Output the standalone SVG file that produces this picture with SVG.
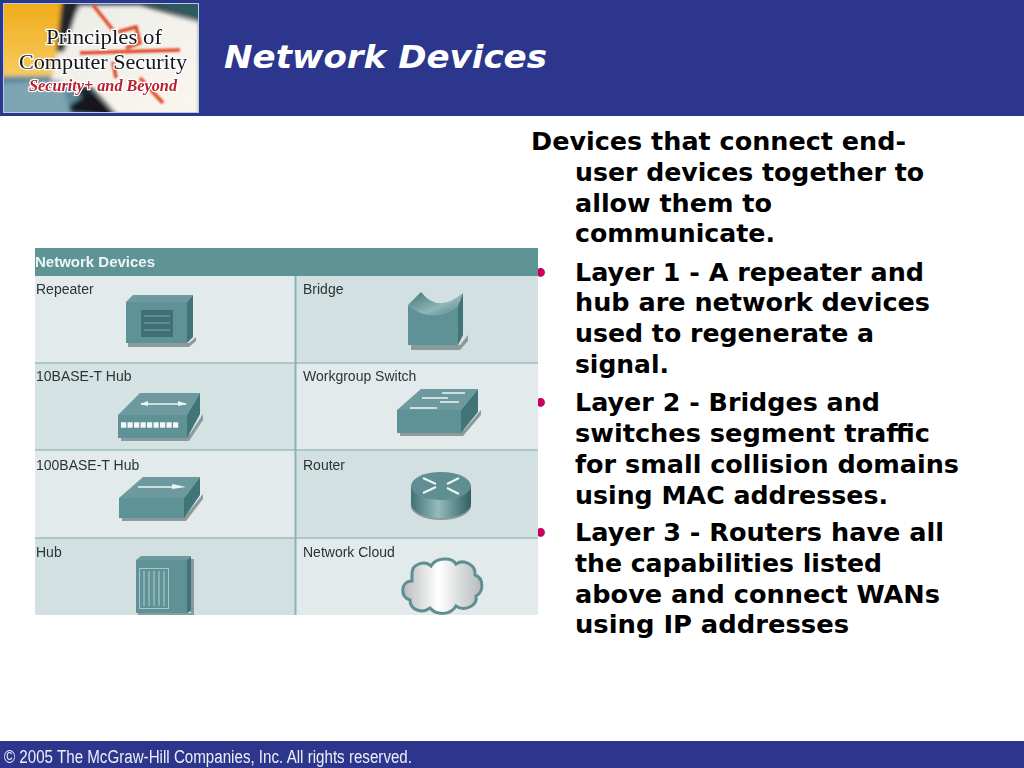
<svg xmlns="http://www.w3.org/2000/svg" width="1024" height="768" viewBox="0 0 1024 768">
<style>
.b{font-family:"DejaVu Sans",Verdana,sans-serif;font-weight:700;font-size:24px;fill:#000}
.bu{font-family:"DejaVu Sans",sans-serif;font-weight:700;font-size:24px;fill:#c8005a}
.l{font-family:"Liberation Sans",Arial,sans-serif;font-size:14px;fill:#2c3434}
.front{fill:#5f9296}.top{fill:#6c9a9e}.side{fill:#3f7478}.sh{fill:#8b9a9b}
.w{stroke:#eef5f5;stroke-width:2;fill:none}
.ser{font-family:"Liberation Serif",serif;fill:#12161e;stroke:#12161e;stroke-width:.3;paint-order:stroke}
</style>
<defs>
<linearGradient id="rt" x1="0" x2="1" y1="0" y2="0"><stop offset="0" stop-color="#3f7074"/><stop offset=".45" stop-color="#94bcbc"/><stop offset="1" stop-color="#2f6064"/></linearGradient>
<linearGradient id="cl" x1="0" x2="1" y1="0" y2="0"><stop offset="0" stop-color="#b8bcbc"/><stop offset=".45" stop-color="#fff"/><stop offset="1" stop-color="#b4baba"/></linearGradient>
<linearGradient id="br" x1="0" x2="1" y1="0" y2="1"><stop offset="0" stop-color="#3f7478"/><stop offset=".6" stop-color="#8fb6b8"/><stop offset="1" stop-color="#4f8286"/></linearGradient>
<linearGradient id="lk" x1="0" x2="1" y1="0" y2="1"><stop offset="0" stop-color="#ecece6"/><stop offset="1" stop-color="#fbf7f0"/></linearGradient>
<linearGradient id="ye" x1="0" x2="0" y1="0" y2="1"><stop offset="0" stop-color="#f0aa18"/><stop offset="1" stop-color="#f7cd62"/></linearGradient>
<filter id="s" x="-5%" y="-5%" width="110%" height="110%"><feGaussianBlur stdDeviation="0.45"/></filter>
<filter id="s2" x="-5%" y="-5%" width="110%" height="110%"><feGaussianBlur stdDeviation="2"/></filter>
<filter id="s3" x="-5%" y="-5%" width="110%" height="110%"><feGaussianBlur stdDeviation="0.8"/></filter>
<clipPath id="lc"><rect x="4" y="4" width="194" height="108"/></clipPath>
<clipPath id="tc"><rect x="35" y="248" width="503" height="367"/></clipPath>
</defs>
<rect width="1024" height="768" fill="#fff"/>
<rect id="header-bar" width="1024" height="116" fill="#2b368c"/>
<rect id="footer-bar" y="741" width="1024" height="27" fill="#2b368c"/>
<text id="title" x="224" y="68" textLength="323" lengthAdjust="spacingAndGlyphs" style="font-family:'DejaVu Sans',Verdana,sans-serif;font-weight:700;font-style:italic;font-size:32px;fill:#fff">Network Devices</text>
<text id="footer" x="4" y="763" filter="url(#s)" style="font-family:'Liberation Sans',Arial,sans-serif;font-size:18px;fill:#eeeef6" textLength="408" lengthAdjust="spacingAndGlyphs">© 2005 The McGraw-Hill Companies, Inc. All rights reserved.</text>
<g id="logo">
<rect x="3.500" y="3.500" width="195" height="109" fill="none" stroke="#b5cde0"/>
<g clip-path="url(#lc)">
<rect x="4" y="4" width="194" height="108" fill="#1d2a30"/>
<g filter="url(#s2)">
<path d="M0 0H64L56 80H0Z" fill="url(#ye)"/>
<path d="M0 76H62L100 116H0Z" fill="#5d8a9e"/>
<path d="M80 5H140L200 22V116H118L90 86H50L58 50Z" fill="url(#lk)"/>
<path d="M62 0H80L64 52H56Z" fill="#23282c"/>
<path d="M140 0H202V22Z" fill="#2e5a60"/>
<path d="M60 112L90 92L118 116Z" fill="#12181c"/>
<path d="M0 84L60 80L72 116H0Z" fill="#7fa4b4"/>
</g>
<g stroke="#e0492a" fill="none" stroke-width="3.500" filter="url(#s3)">
<path d="M93 5L113 30"/><path d="M80 53L180 50"/><path d="M118 32L136 27L140 43L126 48"/><path d="M113 62L116 78M140 78L163 103"/>
</g>
</g>
<text class="ser" x="104" y="44" text-anchor="middle" font-size="21" textLength="116" lengthAdjust="spacingAndGlyphs" filter="url(#s)" style="stroke:#fff;stroke-width:2.500;paint-order:stroke">Principles of</text>
<text class="ser" x="103" y="69" text-anchor="middle" font-size="21" textLength="168" lengthAdjust="spacingAndGlyphs" filter="url(#s)" style="stroke:#fff;stroke-width:2.500;paint-order:stroke">Computer Security</text>
<text x="103" y="91" text-anchor="middle" textLength="148" lengthAdjust="spacingAndGlyphs" filter="url(#s)" style="font-family:'Liberation Serif',serif;font-style:italic;font-weight:700;font-size:16px;fill:#b5202e;stroke:#fff;stroke-width:2.500;paint-order:stroke">Security+ and Beyond</text>
</g>
<g id="body-text">
<text class="b" x="531" y="150" textLength="375" lengthAdjust="spacingAndGlyphs">Devices that connect end-</text>
<text class="b" x="575" y="181" textLength="349" lengthAdjust="spacingAndGlyphs">user devices together to</text>
<text class="b" x="575" y="212" textLength="197" lengthAdjust="spacingAndGlyphs">allow them to</text>
<text class="b" x="575" y="242" textLength="200" lengthAdjust="spacingAndGlyphs">communicate.</text>
<text class="bu" x="533" y="282">•</text>
<text class="b" x="575" y="281" textLength="349" lengthAdjust="spacingAndGlyphs">Layer 1 - A repeater and</text>
<text class="b" x="575" y="311" textLength="355" lengthAdjust="spacingAndGlyphs">hub are network devices</text>
<text class="b" x="575" y="342" textLength="299" lengthAdjust="spacingAndGlyphs">used to regenerate a</text>
<text class="b" x="575" y="373" textLength="94" lengthAdjust="spacingAndGlyphs">signal.</text>
<text class="bu" x="533" y="412">•</text>
<text class="b" x="575" y="411" textLength="305" lengthAdjust="spacingAndGlyphs">Layer 2 - Bridges and</text>
<text class="b" x="575" y="442" textLength="355" lengthAdjust="spacingAndGlyphs">switches segment traffic</text>
<text class="b" x="575" y="473" textLength="384" lengthAdjust="spacingAndGlyphs">for small collision domains</text>
<text class="b" x="575" y="504" textLength="313" lengthAdjust="spacingAndGlyphs">using MAC addresses.</text>
<text class="bu" x="533" y="542">•</text>
<text class="b" x="575" y="541" textLength="369" lengthAdjust="spacingAndGlyphs">Layer 3 - Routers have all</text>
<text class="b" x="575" y="572" textLength="307" lengthAdjust="spacingAndGlyphs">the capabilities listed</text>
<text class="b" x="575" y="603" textLength="365" lengthAdjust="spacingAndGlyphs">above and connect WANs</text>
<text class="b" x="575" y="633" textLength="274" lengthAdjust="spacingAndGlyphs">using IP addresses</text>
</g>
<g id="device-table" clip-path="url(#tc)">
<g filter="url(#s)">
<rect x="35" y="248" width="503" height="367" fill="#d2e0e2"/>
<rect x="35" y="248" width="503" height="28" fill="#5f9497"/>
<rect x="35" y="276" width="260" height="87" fill="#e2eaeb"/>
<rect x="295" y="276" width="243" height="87" fill="#d2e0e2"/>
<rect x="35" y="363" width="260" height="87" fill="#d5e2e4"/>
<rect x="295" y="363" width="243" height="87" fill="#e2eaeb"/>
<rect x="35" y="450" width="260" height="88" fill="#e2eaeb"/>
<rect x="295" y="450" width="243" height="88" fill="#d2e0e2"/>
<rect x="35" y="538" width="260" height="77" fill="#d2e0e2"/>
<rect x="295" y="538" width="243" height="77" fill="#e2eaeb"/>
<path d="M35 363H538M35 450H538M35 538H538" stroke="#7fa8aa" stroke-width="1.200"/>
<path d="M295.500 276V615" stroke="#8db2b4" stroke-width="2"/>
</g>
<text x="35" y="267" filter="url(#s)" style="font-family:'Liberation Sans',Arial,sans-serif;font-weight:700;font-size:15px;fill:#eef5f5">Network Devices</text>
<g id="repeater" filter="url(#s)">
<text class="l" x="36" y="294">Repeater</text>
<path class="sh" d="M128 343H189L196 337V341L189 347H128Z"/>
<path class="top" d="M126 302L133 295H193L187 302Z"/><path class="side" d="M187 302L193 295V337L187 343Z"/><rect class="front" x="126" y="302" width="61" height="41"/>
<rect x="141" y="310" width="32" height="27" fill="#3f7074"/>
<path d="M144 316H170M144 323H170M144 330H170" stroke="#7fa8aa" stroke-width="1"/>
</g>
<g id="bridge" filter="url(#s)">
<text class="l" x="303" y="294">Bridge</text>
<path class="sh" d="M411 345H460L468 335V341L460 350H411Z"/>
<path fill="url(#br)" d="M408 305L421 292Q438 314 463 293L458 306Q432 325 408 305Z"/>
<path class="side" d="M458 306L463 293V335L458 345Z"/>
<path class="front" d="M408 305Q432 325 458 306V345H408Z"/>
</g>
<g id="hub-10base" filter="url(#s)">
<text class="l" x="36" y="381">10BASE-T Hub</text>
<path class="sh" d="M121 434H190L203 414V420L189 441H121Z"/>
<path class="top" d="M118 415L140 393H200L187 415Z"/><path class="side" d="M187 415L200 393V414L187 438Z"/><rect class="front" x="118" y="415" width="69" height="23"/>
<path d="M141 404H186" stroke="#eef5f5" stroke-width="1.500"/><path d="M148 401L140 404L148 406ZM178 401L187 404L178 406Z" fill="#eef5f5"/>
<path d="M121 425H179" stroke="#f4f8f8" stroke-width="5.500" stroke-dasharray="5.200 1.300"/>
</g>
<g id="workgroup-switch" filter="url(#s)">
<text class="l" x="303" y="381">Workgroup Switch</text>
<path class="sh" d="M400 430H464L481 410V415L463 436H400Z"/>
<path class="top" d="M397 410L421 389H478L461 410Z"/><path class="side" d="M461 410L478 389V412L461 433Z"/><rect class="front" x="397" y="410" width="64" height="23"/>
<path d="M442 393H465M422 398H448M440 402H459M410 408H437" stroke="#eef5f5" stroke-width="1.500"/>
</g>
<g id="hub-100base" filter="url(#s)">
<text class="l" x="36" y="470">100BASE-T Hub</text>
<path class="sh" d="M122 515H186L203 494V499L186 521H122Z"/>
<path class="top" d="M119 498L143 477H200L184 498Z"/><path class="side" d="M184 498L200 477V495L184 518Z"/><rect class="front" x="119" y="498" width="65" height="20"/>
<path d="M138 487H180" stroke="#eef5f5" stroke-width="1.500"/><path d="M172 484L186 487L172 489Z" fill="#eef5f5"/>
</g>
<g id="router" filter="url(#s)">
<text class="l" x="303" y="470">Router</text>
<ellipse cx="441" cy="506" rx="30" ry="14" fill="#8b9a9b"/>
<path fill="url(#rt)" d="M411 486V504A30 14 0 0 0 471 504V486Z"/>
<ellipse class="top" cx="441" cy="486" rx="30" ry="14" style="fill:#5f8f92"/>
<path class="w" d="M423 478L436 484M459 478L447 484M423 493L436 487M459 494L447 488"/>
</g>
<g id="hub" filter="url(#s)">
<text class="l" x="36" y="557">Hub</text>
<rect class="sh" x="191" y="559" width="3" height="56"/><rect class="sh" x="138" y="613" width="55" height="3"/>
<path class="top" d="M136 560L141 556H191L187 560Z"/><path class="side" d="M187 560L191 556V611L187 613Z"/><rect class="front" x="136" y="560" width="51" height="53"/>
<rect x="139.500" y="568.500" width="29" height="40" fill="none" stroke="#a9c7c9"/>
<path d="M144 571V606M149 571V606M154 571V606M159 571V606M164 571V606" stroke="#b5d0d1" stroke-width="1"/>
</g>
<g id="network-cloud" filter="url(#s)">
<text class="l" x="303" y="557">Network Cloud</text>
<path fill="url(#cl)" stroke="#5f8f92" stroke-width="3" d="M412 573C412 564 425 560 431 566C436 557 452 557 456 564C463 559 476 564 475 575C484 578 484 592 476 596C478 606 464 612 456 606C450 616 436 615 430 608C422 614 410 610 410 600C400 598 400 581 412 581Z"/>
</g>
</g>
</svg>
